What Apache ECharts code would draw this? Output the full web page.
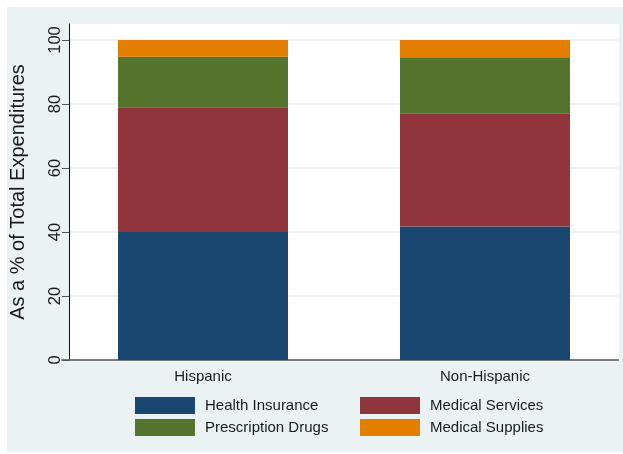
<!DOCTYPE html>
<html>
<head>
<meta charset="utf-8">
<script src="https://cdn.jsdelivr.net/npm/echarts@6/dist/echarts.min.js"></script>
<style>
html,body{margin:0;padding:0;background:#ffffff;}
#chart{width:623px;height:454px;}
</style>
</head>
<body>
<div id="chart"></div>
<script>
var categories = ['Hispanic', 'Non-Hispanic'];
var healthInsurance = [40.0, 41.7];
var medicalServices = [39.0, 35.4];
var prescriptionDrugs = [15.8, 17.5];
var medicalSupplies = [5.2, 5.4];
var yTicks = [0, 20, 40, 60, 80, 100];
var seriesNames = ['Health Insurance', 'Medical Services', 'Prescription Drugs', 'Medical Supplies'];
var colors = ['#1a476f', '#90353b', '#55752f', '#e37e00'];

var font = 'Liberation Sans, Arial, Helvetica, sans-serif';
var chart = echarts.init(document.getElementById('chart'), null, {renderer: 'canvas'});

var dataSets = [healthInsurance, medicalServices, prescriptionDrugs, medicalSupplies];
var series = seriesNames.map(function (n, i) {
  return {
    name: n, type: 'bar', stack: 'total', data: dataSets[i],
    barWidth: 170,
    itemStyle: {color: colors[i]}
  };
});

var legendPos = [[135, 397], [360, 397], [135, 419], [360, 419]];
var legends = seriesNames.map(function (n, i) {
  return {
    data: [n], left: legendPos[i][0], top: legendPos[i][1],
    itemWidth: 60, itemHeight: 17, itemGap: 0, padding: 0,
    icon: 'rect', selectedMode: false,
    textStyle: {fontFamily: font, fontSize: 15, color: '#1a1a1a', padding: [0, 0, 0, 5]}
  };
});

chart.setOption({
  animation: false,
  backgroundColor: '#ffffff',
  color: colors,
  graphic: [
    {type: 'rect', left: 7, top: 7, z: -20, silent: true,
     shape: {width: 616, height: 445}, style: {fill: '#eaf2f3'}},
    {type: 'rect', left: 69, top: 24, z: -10, silent: true,
     shape: {width: 550, height: 336}, style: {fill: '#ffffff'}},
    {type: 'rect', left: 619, top: 7, z: 100, silent: true,
     shape: {width: 4, height: 445}, style: {fill: '#eaf2f3'}}
  ],
  grid: {
    left: 62, right: -3, top: 24, bottom: 94,
    show: false, containLabel: false, outerBoundsMode: 'none'
  },
  legend: legends,
  xAxis: {
    type: 'category', data: categories,
    axisLine: {show: true, lineStyle: {color: '#555', width: 1.5}},
    axisTick: {show: false},
    axisLabel: {fontFamily: font, fontSize: 15, color: '#1a1a1a', margin: 9}
  },
  yAxis: {
    type: 'value', min: 0, max: 105, interval: 20, offset: -7,
    name: 'As a % of Total Expenditures',
    nameLocation: 'middle', nameRotate: 90, nameGap: 41,
    nameTextStyle: {fontFamily: font, fontSize: 20, color: '#1a1a1a'},
    axisLine: {show: true, lineStyle: {color: '#111', width: 1}},
    axisTick: {show: true, length: 7, lineStyle: {color: '#555'}, customValues: yTicks},
    axisLabel: {fontFamily: font, fontSize: 16.5, color: '#1a1a1a', rotate: 90, margin: 5, customValues: yTicks},
    splitLine: {show: true, lineStyle: {color: '#eaf2f3', width: 1.5}}
  },
  series: series
});
</script>
</body>
</html>
